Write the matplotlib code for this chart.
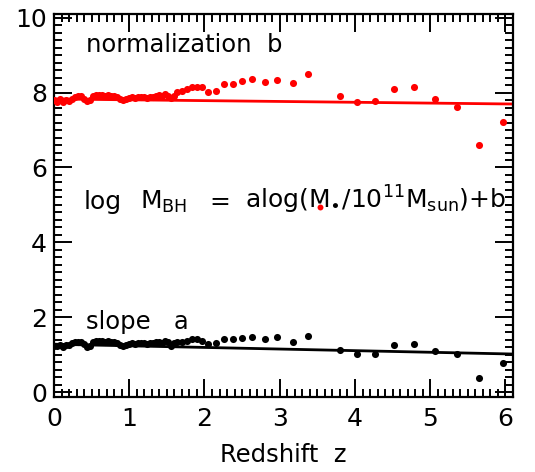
import matplotlib
matplotlib.use("Agg")
import matplotlib.pyplot as plt
from matplotlib.ticker import MultipleLocator

# dense low-redshift sample
z_dense = [0.00, 0.04, 0.08, 0.12, 0.16, 0.20, 0.24, 0.28, 0.32, 0.36,
           0.40, 0.44, 0.48, 0.52, 0.56, 0.60, 0.64, 0.68, 0.72, 0.76,
           0.80, 0.84, 0.88, 0.92, 0.96, 1.00, 1.04, 1.08, 1.12, 1.16,
           1.20, 1.24, 1.28, 1.32, 1.36, 1.40, 1.44, 1.48, 1.52, 1.56, 1.60]
b_dense = [7.80, 7.76, 7.82, 7.74, 7.80, 7.78, 7.84, 7.88, 7.91, 7.90,
           7.84, 7.78, 7.80, 7.90, 7.93, 7.93, 7.94, 7.92, 7.93, 7.92,
           7.91, 7.88, 7.82, 7.80, 7.83, 7.86, 7.87, 7.86, 7.88, 7.87,
           7.88, 7.86, 7.89, 7.88, 7.91, 7.93, 7.90, 7.95, 7.92, 7.86, 7.90]
a_dense = [1.24, 1.22, 1.27, 1.20, 1.25, 1.27, 1.30, 1.33, 1.35, 1.34,
           1.28, 1.21, 1.24, 1.33, 1.36, 1.36, 1.37, 1.35, 1.36, 1.35,
           1.34, 1.31, 1.26, 1.24, 1.27, 1.29, 1.30, 1.29, 1.31, 1.30,
           1.31, 1.29, 1.32, 1.31, 1.33, 1.35, 1.32, 1.37, 1.34, 1.24, 1.31]

# sparse higher-redshift sample
z_sparse = [1.64, 1.70, 1.77, 1.84, 1.90, 1.97, 2.05, 2.15, 2.26, 2.38,
            2.50, 2.63, 2.81, 2.97, 3.17, 3.37, 3.80, 4.03, 4.27, 4.52,
            4.79, 5.06, 5.36, 5.65, 5.97]
b_sparse = [8.01, 8.03, 8.09, 8.14, 8.15, 8.15, 8.01, 8.03, 8.24, 8.24,
            8.32, 8.37, 8.28, 8.34, 8.25, 8.49, 7.92, 7.75, 7.78, 8.11,
            8.14, 7.83, 7.61, 6.60, 7.22]
a_sparse = [1.33, 1.35, 1.37, 1.41, 1.41, 1.37, 1.28, 1.30, 1.42, 1.41,
            1.44, 1.48, 1.41, 1.46, 1.33, 1.50, 1.12, 1.02, 1.01, 1.26,
            1.28, 1.10, 1.01, 0.39, 0.77]

# stray red point overlapping the equation's M subscript
z_extra = [3.54]
b_extra = [4.94]

# linear fits: (intercept, slope)
b_fit = (7.83, -0.022)
a_fit = (1.28, -0.043)
z_fit = [0.0, 6.1]

x_ticks = [0, 1, 2, 3, 4, 5, 6]
y_ticks = [0, 2, 4, 6, 8, 10]

plt.rcParams['font.family'] = ['DejaVu Sans']
fig = plt.figure(figsize=(5.35, 4.72), dpi=100)
ax = fig.add_axes([54/535, 1-397/472, (513-54)/535, (397-14)/472])

ms = 26
ax.scatter(z_dense, b_dense, s=ms, c='red', lw=0, zorder=3)
ax.scatter(z_sparse, b_sparse, s=ms, c='red', lw=0, zorder=3)
ax.scatter(z_dense, a_dense, s=ms, c='black', lw=0, zorder=3)
ax.scatter(z_sparse, a_sparse, s=ms, c='black', lw=0, zorder=3)

ax.plot(z_fit, [b_fit[0] + b_fit[1]*z for z in z_fit], color='red', lw=2.0, zorder=2)
ax.plot(z_fit, [a_fit[0] + a_fit[1]*z for z in z_fit], color='black', lw=2.0, zorder=2)

ax.set_xlim(0, 6.1)
ax.set_ylim(-0.13, 10.1)
ax.set_xticks(x_ticks)
ax.set_yticks(y_ticks)
ax.xaxis.set_minor_locator(MultipleLocator(0.1))
ax.yaxis.set_minor_locator(MultipleLocator(0.2))
ax.tick_params(which='both', direction='in', top=True, right=True, width=1.4,
               labelsize=18, colors='black')
ax.tick_params(which='major', length=13)
ax.tick_params(axis='x', which='major', pad=7)
ax.tick_params(axis='y', which='major', pad=5)
ax.tick_params(which='minor', length=6)
for sp in ax.spines.values():
    sp.set_linewidth(1.6)

ax.set_xlabel('Redshift  z', fontsize=17.5, labelpad=9)

fs = 18
ax.text(0.42, 9.28, 'normalization  b', fontsize=17.5, va='center', ha='left')
ax.text(0.42, 1.87, 'slope   a', fontsize=17.5, va='center', ha='left')

yb = 4.89
ax.text(0.39, yb, 'log', fontsize=fs, va='baseline', ha='left')
ax.text(1.14, yb, r'M$_{\rm BH}$', fontsize=fs, va='baseline', ha='left')
ax.text(2.07, yb, '=', fontsize=fs, va='baseline', ha='left')
ax.text(2.54, yb, r'alog(M$_{\bullet}$/10$^{11}$M$_{\rm sun}$)+b',
        fontsize=fs, va='baseline', ha='left')
ax.scatter(z_extra, b_extra, s=18, c='red', lw=0, zorder=4)

fig.savefig('out.png', dpi=100)
